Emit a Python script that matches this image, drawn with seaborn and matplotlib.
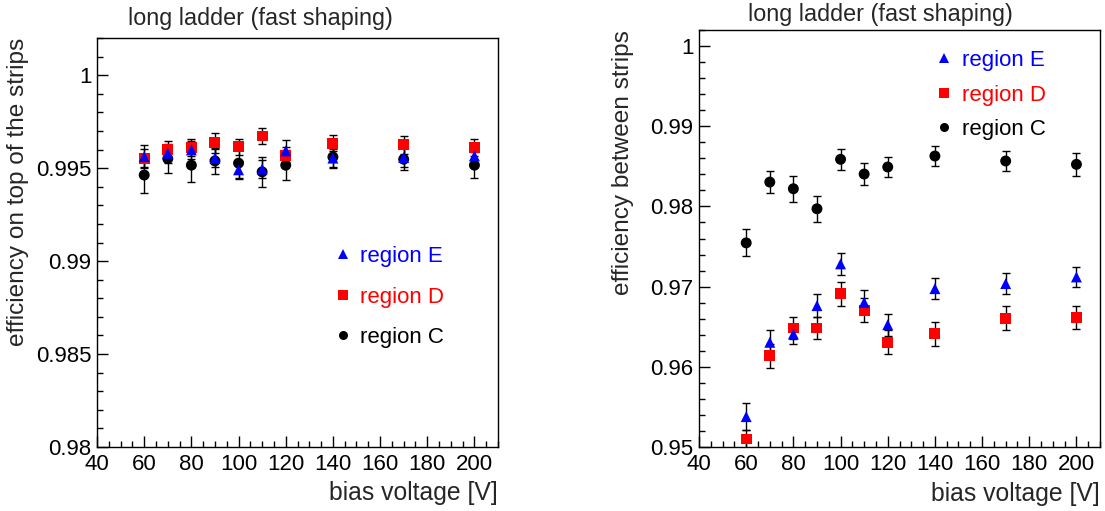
import numpy as np
import pandas as pd
import matplotlib
matplotlib.use("Agg")
import matplotlib.pyplot as plt
import seaborn as sns
from matplotlib.lines import Line2D
from matplotlib.ticker import MultipleLocator, FormatStrFormatter

# bias voltage points [V]
voltages = [60, 70, 80, 90, 100, 110, 120, 140, 170, 200]

# efficiency on top of the strips
top_E = [0.99562, 0.99580, 0.99598, 0.99554, 0.99491, 0.99495, 0.99593, 0.99554, 0.99557, 0.99566]
top_E_err = [0.0006, 0.0005, 0.0005, 0.0005, 0.0005, 0.0005, 0.0006, 0.0005, 0.0005, 0.0005]
top_D = [0.99554, 0.99598, 0.99610, 0.99637, 0.99616, 0.99673, 0.99566, 0.99634, 0.99625, 0.99610]
top_D_err = [0.0005, 0.0005, 0.00045, 0.00054, 0.00043, 0.00045, 0.0005, 0.00043, 0.0005, 0.00045]
top_C = [0.99463, 0.99551, 0.99516, 0.99539, 0.99527, 0.99480, 0.99516, 0.99560, 0.99548, 0.99516]
top_C_err = [0.00098, 0.00075, 0.00093, 0.0007, 0.0008, 0.0008, 0.0008, 0.0006, 0.0006, 0.0007]

# efficiency between strips
btw_E = [0.95379, 0.96306, 0.96409, 0.96763, 0.97284, 0.96804, 0.96525, 0.96975, 0.97038, 0.97121]
btw_E_err = [0.0017, 0.0015, 0.0013, 0.0014, 0.0014, 0.0015, 0.0014, 0.0013, 0.0013, 0.0013]
btw_D = [0.95100, 0.96138, 0.96484, 0.96484, 0.96913, 0.96704, 0.96309, 0.96413, 0.96604, 0.96616]
btw_D_err = [0.0011, 0.0015, 0.0014, 0.0014, 0.0015, 0.0015, 0.0015, 0.0015, 0.0015, 0.0014]
btw_C = [0.97546, 0.98304, 0.98221, 0.97971, 0.98588, 0.98404, 0.98492, 0.98629, 0.98567, 0.98525]
btw_C_err = [0.0017, 0.0014, 0.0016, 0.0016, 0.0013, 0.0014, 0.0013, 0.0013, 0.0013, 0.0014]

regions = ["C", "D", "E"]
colors = {"C": "black", "D": "#ff0000", "E": "#0000ff"}
markers = {"C": "o", "D": "s", "E": "^"}


def make_df(series):
    rows = []
    for reg in regions:
        vals, errs = series[reg]
        for v, e, r in zip(voltages, vals, errs):
            rows.append({"voltage": v, "eff": e, "err": r, "region": reg})
    return pd.DataFrame(rows)


df_top = make_df({"C": (top_C, top_C_err), "D": (top_D, top_D_err), "E": (top_E, top_E_err)})
df_btw = make_df({"C": (btw_C, btw_C_err), "D": (btw_D, btw_D_err), "E": (btw_E, btw_E_err)})

sns.set_style("white")
plt.rcParams["font.family"] = ["Liberation Sans", "DejaVu Sans"]
plt.rcParams["font.size"] = 16

fig = plt.figure(figsize=(11.05, 5.11), dpi=100)
ax1 = fig.add_axes([0.0878, 0.1252, 0.3629, 0.8004])
ax2 = fig.add_axes([0.6326, 0.1252, 0.3629, 0.8160])


def draw_panel(ax, df, ylim, ymajor, yminor, ylabel):
    for reg in regions:
        sub = df[df.region == reg]
        ax.errorbar(sub.voltage, sub.eff, yerr=sub.err, fmt="none", ecolor="black",
                    elinewidth=1.0, capsize=2.8, capthick=1.0, zorder=2)
    sns.scatterplot(data=df, x="voltage", y="eff", hue="region", style="region",
                    hue_order=regions, style_order=regions, palette=colors,
                    markers=markers, s=62, linewidth=0, legend=False, ax=ax, zorder=3)
    ax.set_xlim(40, 210)
    ax.set_ylim(*ylim)
    ax.xaxis.set_major_locator(MultipleLocator(20))
    ax.xaxis.set_minor_locator(MultipleLocator(5))
    ax.yaxis.set_major_locator(MultipleLocator(ymajor))
    ax.yaxis.set_minor_locator(MultipleLocator(yminor))
    ax.yaxis.set_major_formatter(FormatStrFormatter("%g"))
    ax.tick_params(which="both", direction="in", top=False, right=False,
                   left=True, bottom=True, colors="black", labelsize=16)
    ax.tick_params(which="major", length=8, width=1)
    ax.tick_params(which="minor", length=4, width=1)
    ax.tick_params(axis="y", pad=4)
    ax.tick_params(axis="x", pad=5)
    for sp in ax.spines.values():
        sp.set_color("black")
        sp.set_linewidth(1.0)
    ax.set_xlabel("bias voltage [V]", loc="right", fontsize=17.8)
    ax.xaxis.set_label_coords(1.0, -0.083)
    ax.set_ylabel(ylabel, loc="top", fontsize=17.6)


draw_panel(ax1, df_top, (0.98, 1.002), 0.005, 0.001, "efficiency on top of the strips")
ax1.yaxis.set_label_coords(-0.17, 1.0)
draw_panel(ax2, df_btw, (0.95, 1.002), 0.01, 0.002, "efficiency between strips")
ax2.yaxis.set_label_coords(-0.163, 1.0)

fig.text(260 / 1105, 1 - 18 / 511, "long ladder (fast shaping)", ha="center", va="center", fontsize=16.8)
fig.text(880 / 1105, 1 - 14 / 511, "long ladder (fast shaping)", ha="center", va="center", fontsize=16.8)

# legends: E, D, C
handles = [Line2D([], [], linestyle="none", marker=markers[r], color=colors[r],
                  markersize=6.5, markeredgewidth=0) for r in ["E", "D", "C"]]
labels = ["region E", "region D", "region C"]
for ax, anchor, spacing in [(ax1, (0.302, 1 - 297 / 511), 0.87),
                            (ax2, (0.8467, 1 - 95 / 511), 0.62)]:
    ax.legend(handles, labels, loc="center left", bbox_to_anchor=anchor,
              bbox_transform=fig.transFigure, frameon=False, fontsize=16,
              handlelength=0.8, handletextpad=0.4, borderpad=0, borderaxespad=0,
              labelspacing=spacing, labelcolor=[colors["E"], colors["D"], colors["C"]])

fig.savefig("out.png", dpi=100)
